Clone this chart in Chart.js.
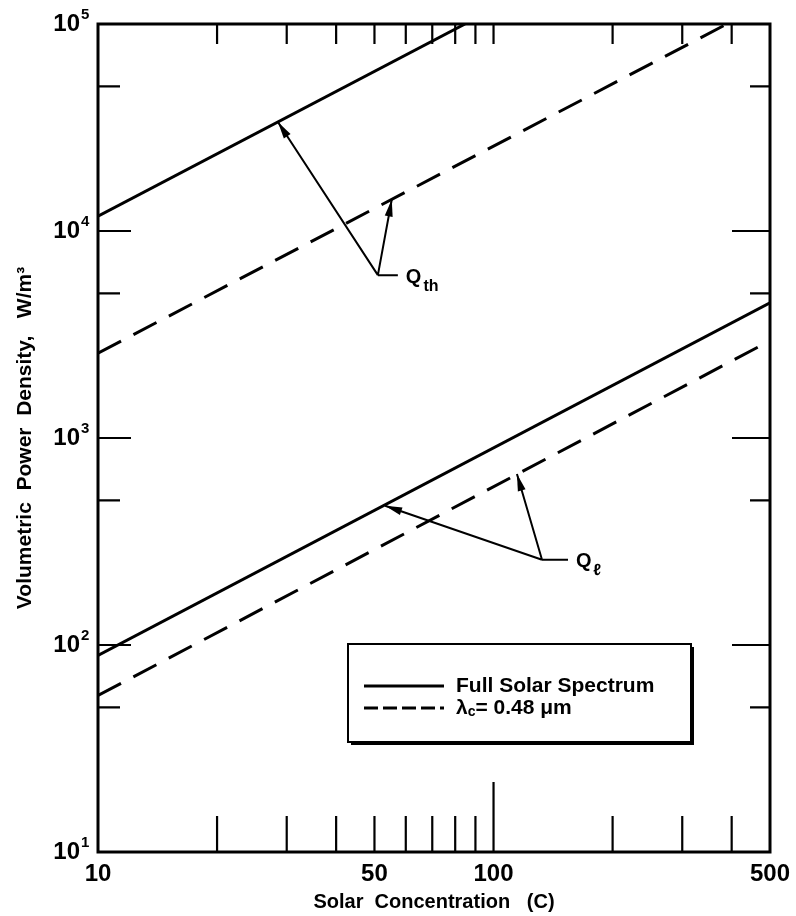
<!DOCTYPE html>
<html>
<head>
<meta charset="utf-8">
<script src="https://cdn.jsdelivr.net/npm/chart.js@4"></script>
<style>
  body { margin: 0; background: #fff; }
  #wrap { width: 796px; height: 916px; }
</style>
</head>
<body>
<div id="wrap"><canvas id="myChart" width="796" height="916"></canvas></div>
<script>
// End points of each straight line
// Q_th, full solar spectrum (runs off the top of the plot)
const qthFullC = [10, 84.7];
const qthFullQ = [11800, 100000];
// Q_th, lambda_c = 0.48 um
const qthCutC = [10, 389];
const qthCutQ = [2570, 100000];
// Q_l, full solar spectrum
const qlFullC = [10, 500];
const qlFullQ = [89, 4500];
// Q_l, lambda_c = 0.48 um
const qlCutC = [10, 500];
const qlCutQ = [57, 2950];

// Axis labels and tick marks
const xTickLabels = [10, 50, 100, 500];
const xTickMarks = [20, 30, 40, 50, 60, 70, 80, 90, 100, 200, 300, 400];
const yTickLabels = [10, 100, 1000, 10000, 100000];
const yExponents = [1, 2, 3, 4, 5];
const yMinorTicks = [50, 500, 5000, 50000];

const legendLabels = ["Full Solar Spectrum", "\u03bbc= 0.48 \u03bcm"];

// Callouts: label, origin [C, Q], arrow tips [[C, Q], ...]
const qthCallout = { text: "Q", sub: "th", from: [51.0, 6120], tips: [[28.5, 33600], [55.3, 14200]], stub: 20 };
const qlCallout = { text: "Q", sub: "\u2113", from: [132.6, 258], tips: [[53.2, 471], [114.6, 670]], stub: 26 };

const toPoints = (xs, ys) => xs.map((c, i) => ({ x: c, y: ys[i] }));

const solid = { showLine: true, borderColor: "#000", borderWidth: 3, pointRadius: 0, fill: false };
const dashed = { ...solid, borderDash: [26, 14] };

const BOLD = "'Liberation Sans', 'DejaVu Sans', sans-serif";

// frame, inward tick marks on all four sides, exponents of the y labels
const framePlugin = {
  id: "frame",
  afterDatasetsDraw(chart) {
    const { ctx, chartArea: a, scales: { x, y } } = chart;
    ctx.save();
    ctx.strokeStyle = "#000";
    ctx.lineWidth = 3;
    ctx.strokeRect(a.left, a.top, a.right - a.left, a.bottom - a.top);
    ctx.lineWidth = 2.2;
    ctx.beginPath();
    yTickLabels.forEach(v => {
      const py = y.getPixelForValue(v);
      ctx.moveTo(a.left, py); ctx.lineTo(a.left + 33, py);
      ctx.moveTo(a.right, py); ctx.lineTo(a.right - 38, py);
    });
    yMinorTicks.forEach(v => {
      const py = y.getPixelForValue(v);
      ctx.moveTo(a.left, py); ctx.lineTo(a.left + 22, py);
      ctx.moveTo(a.right, py); ctx.lineTo(a.right - 20, py);
    });
    xTickMarks.forEach(v => {
      const px = x.getPixelForValue(v);
      const len = v === 100 ? 70 : 36;
      ctx.moveTo(px, a.bottom); ctx.lineTo(px, a.bottom - len);
      ctx.moveTo(px, a.top); ctx.lineTo(px, a.top + 20);
    });
    ctx.stroke();
    // superscripts for the 10^n labels
    ctx.fillStyle = "#000";
    ctx.font = "bold 15px " + BOLD;
    ctx.textAlign = "left";
    ctx.textBaseline = "middle";
    yTickLabels.forEach((v, i) => {
      ctx.fillText(String(yExponents[i]), a.left - 17, y.getPixelForValue(v) - 9);
    });
    ctx.restore();
  }
};

function arrowHead(ctx, x0, y0, x1, y1) {
  const ang = Math.atan2(y1 - y0, x1 - x0);
  const len = 17, half = 4;
  ctx.beginPath();
  ctx.moveTo(x1, y1);
  ctx.lineTo(x1 - len * Math.cos(ang) + half * Math.sin(ang), y1 - len * Math.sin(ang) - half * Math.cos(ang));
  ctx.lineTo(x1 - len * Math.cos(ang) - half * Math.sin(ang), y1 - len * Math.sin(ang) + half * Math.cos(ang));
  ctx.closePath();
  ctx.fill();
}

const calloutPlugin = {
  id: "callouts",
  afterDatasetsDraw(chart) {
    const { ctx, scales: { x, y } } = chart;
    ctx.save();
    ctx.strokeStyle = "#000";
    ctx.fillStyle = "#000";
    ctx.lineWidth = 2;
    [qthCallout, qlCallout].forEach(c => {
      const ox = x.getPixelForValue(c.from[0]);
      const oy = y.getPixelForValue(c.from[1]);
      ctx.beginPath();
      ctx.moveTo(ox, oy); ctx.lineTo(ox + c.stub, oy);
      c.tips.forEach(t => {
        ctx.moveTo(ox, oy);
        ctx.lineTo(x.getPixelForValue(t[0]), y.getPixelForValue(t[1]));
      });
      ctx.stroke();
      c.tips.forEach(t => arrowHead(ctx, ox, oy, x.getPixelForValue(t[0]), y.getPixelForValue(t[1])));
      ctx.textBaseline = "middle";
      ctx.textAlign = "left";
      ctx.font = "bold 20px " + BOLD;
      const tx = ox + c.stub + 8;
      ctx.fillText(c.text, tx, oy + 2);
      const qw = ctx.measureText(c.text).width;
      ctx.font = "bold 16px " + BOLD;
      ctx.fillText(c.sub, tx + qw + 2, oy + 11);
    });
    ctx.restore();
  }
};

const legendPlugin = {
  id: "boxLegend",
  afterDatasetsDraw(chart) {
    const { ctx, chartArea: a } = chart;
    const bx = a.left + 250, by = a.top + 620, bw = 343, bh = 98;
    ctx.save();
    ctx.fillStyle = "#000";
    ctx.fillRect(bx + 3, by + 3, bw, bh);
    ctx.fillStyle = "#fff";
    ctx.fillRect(bx, by, bw, bh);
    ctx.strokeStyle = "#000";
    ctx.lineWidth = 2;
    ctx.strokeRect(bx, by, bw, bh);
    const rows = [by + 42, by + 64];
    const styles = [solid, dashed];
    rows.forEach((ry, i) => {
      ctx.lineWidth = 3;
      ctx.setLineDash(styles[i].borderDash ? [14, 5] : []);
      ctx.beginPath();
      ctx.moveTo(bx + 16, ry); ctx.lineTo(bx + 96, ry);
      ctx.stroke();
      ctx.setLineDash([]);
    });
    ctx.fillStyle = "#000";
    ctx.textBaseline = "middle";
    ctx.textAlign = "left";
    ctx.font = "bold 21px " + BOLD;
    ctx.fillText(legendLabels[0], bx + 108, rows[0]);
    // lambda with subscript c
    const lab = legendLabels[1];
    ctx.fillText(lab[0], bx + 108, rows[1]);
    let cx = bx + 108 + ctx.measureText(lab[0]).width;
    ctx.font = "bold 14px " + BOLD;
    ctx.fillText(lab[1], cx, rows[1] + 4);
    cx += ctx.measureText(lab[1]).width;
    ctx.font = "bold 21px " + BOLD;
    ctx.fillText(lab.slice(2), cx, rows[1]);
    ctx.restore();
  }
};

const data = {
  datasets: [
    { label: legendLabels[0], data: toPoints(qthFullC, qthFullQ), ...solid },
    { label: legendLabels[1], data: toPoints(qthCutC, qthCutQ), ...dashed },
    { label: legendLabels[0], data: toPoints(qlFullC, qlFullQ), ...solid },
    { label: legendLabels[1], data: toPoints(qlCutC, qlCutQ), ...dashed },
  ],
};

const config = {
  type: "scatter",
  data: data,
  options: {
    responsive: false,
    animation: false,
    layout: { padding: { top: 24, right: 26, left: 0, bottom: 0 } },
    plugins: { legend: { display: false }, tooltip: { enabled: false } },
    scales: {
      x: {
        type: "logarithmic",
        min: 10,
        max: 500,
        afterBuildTicks: ax => { ax.ticks = xTickLabels.map(v => ({ value: v })); },
        afterFit: ax => { ax.height = 64; ax.paddingLeft = 0; ax.paddingRight = 0; },
        grid: { display: false, drawTicks: false },
        border: { display: false },
        ticks: {
          padding: 8, maxRotation: 0, autoSkip: false, color: "#000",
          font: { family: BOLD, size: 24, weight: "bold" },
          callback: v => String(v),
        },
        title: {
          display: true,
          text: "Solar  Concentration   (C)",
          color: "#000",
          font: { family: BOLD, size: 20, weight: "bold" },
          padding: { top: 0, bottom: 2 },
        },
      },
      y: {
        type: "logarithmic",
        min: 10,
        max: 100000,
        afterBuildTicks: ax => { ax.ticks = yTickLabels.map(v => ({ value: v })); },
        afterFit: ax => { ax.width = 98; ax.paddingTop = 0; ax.paddingBottom = 0; },
        grid: { display: false, drawTicks: false },
        border: { display: false },
        ticks: {
          padding: 18, autoSkip: false, color: "#000",
          font: { family: BOLD, size: 24, weight: "bold" },
          callback: () => "10",
        },
        title: {
          display: true,
          text: "Volumetric  Power  Density,   W/m\u00b3",
          color: "#000",
          font: { family: BOLD, size: 21, weight: "bold" },
          padding: { top: 13, bottom: 0 },
        },
      },
    },
  },
  plugins: [framePlugin, calloutPlugin, legendPlugin],
};

const myChart = new Chart(document.getElementById("myChart"), config);
</script>
</body>
</html>
